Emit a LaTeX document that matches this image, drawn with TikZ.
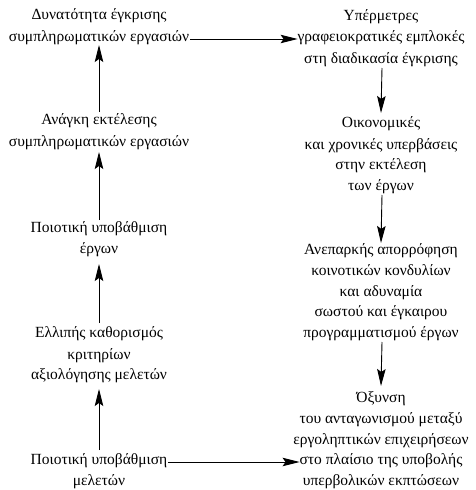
\documentclass[tikz,border=0pt]{standalone}
\usepackage{fontspec}
\setmainfont{Liberation Serif}
\usetikzlibrary{arrows.meta}
\begin{document}
\begin{tikzpicture}[x=1pt,y=-1pt,
  ln/.style={anchor=mid,inner sep=0pt,outer sep=0pt,font=\fontsize{15.5}{19}\selectfont},
  arr/.style={draw,line width=0.9pt,-{Stealth[length=17pt,width=8.5pt,inset=3pt]}}]
\useasboundingbox (0,0) rectangle (475,490);
\def\xl{99}
\def\xr{381}
% left column
\node[ln] (L1a) at (\xl,17) {Δυνατότητα έγκρισης};
\node[ln] (L1b) at (\xl,39) {συμπληρωματικών εργασιών};
\node[ln] (L2a) at (\xl,122) {Ανάγκη εκτέλεσης};
\node[ln] (L2b) at (\xl,144) {συμπληρωματικών εργασιών};
\node[ln] (L3a) at (\xl,230) {Ποιοτική υποβάθμιση};
\node[ln] (L3b) at (\xl,251) {έργων};
\node[ln] (L4a) at (\xl,335) {Ελλιπής καθορισμός};
\node[ln] (L4b) at (\xl,357) {κριτηρίων};
\node[ln] (L4c) at (\xl,377) {αξιολόγησης μελετών};
\node[ln] (L5a) at (\xl,462) {Ποιοτική υποβάθμιση};
\node[ln] (L5b) at (\xl,483) {μελετών};
% right column
\node[ln] (R1a) at (\xr,18) {Υπέρμετρες};
\node[ln] (R1b) at (\xr,39) {γραφειοκρατικές εμπλοκές};
\node[ln] (R1c) at (\xr,61) {στη διαδικασία έγκρισης};
\node[ln] (R2a) at (\xr,125) {Οικονομικές};
\node[ln] (R2b) at (\xr,147) {και χρονικές υπερβάσεις};
\node[ln] (R2c) at (\xr,167) {στην εκτέλεση};
\node[ln] (R2d) at (\xr,188) {των έργων};
\node[ln] (R3a) at (\xr,252) {Ανεπαρκής απορρόφηση};
\node[ln] (R3b) at (\xr,273) {κοινοτικών κονδυλίων};
\node[ln] (R3c) at (\xr,294) {και αδυναμία};
\node[ln] (R3d) at (\xr,314) {σωστού και έγκαιρου};
\node[ln] (R3e) at (\xr,335) {προγραμματισμού έργων};
\node[ln] (R4a) at (\xr,400) {Όξυνση};
\node[ln] (R4b) at (\xr,421) {του ανταγωνισμού μεταξύ};
\node[ln] (R4c) at (\xr,442) {εργοληπτικών επιχειρήσεων};
\node[ln] (R4d) at (\xr,462) {στο πλαίσιο της υποβολής};
\node[ln] (R4e) at (\xr,483) {υπερβολικών εκπτώσεων};
% connectors
\path[arr] ([yshift=10pt]L2a.mid) -- ([yshift=-6pt]L1b.mid);
\path[arr] ([yshift=10pt]L3a.mid) -- ([yshift=-8pt]L2b.mid);
\path[arr] ([yshift=12pt]L4a.mid) -- ([yshift=-13pt]L3b.mid);
\path[arr] ([yshift=12pt]L5a.mid) -- ([yshift=-12pt]L4c.mid);
\path[arr] ([xshift=1pt]L1b.mid east) -- (R1b.mid west);
\path[arr] ([xshift=1pt]L5a.mid east) -- (R4d.mid west);
\path[arr] ([xshift=1pt,yshift=-7pt]R1c.mid) -- ([yshift=12pt]R2a.mid);
\path[arr] ([xshift=1pt,yshift=-7pt]R2d.mid) -- ([yshift=9pt]R3a.mid);
\path[arr] ([xshift=1pt,yshift=-7pt]R3e.mid) -- ([yshift=14pt]R4a.mid);
\end{tikzpicture}
\end{document}
